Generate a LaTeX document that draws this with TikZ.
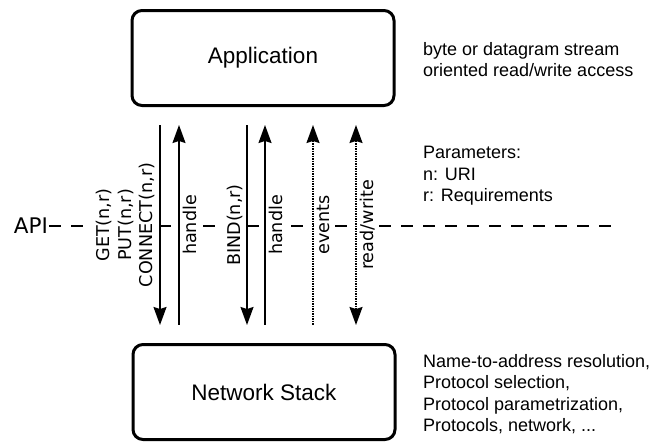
\documentclass[tikz,border=0pt]{standalone}
\usepackage{fontspec}
\setmainfont{Liberation Sans}
\newfontfamily\labelfont{DejaVu Sans}
\usetikzlibrary{positioning,arrows.meta}

\begin{document}
\begin{tikzpicture}[x=1pt, y=-1pt, >={Stealth[length=18pt,width=13pt,inset=2pt]},
  layer/.style={draw, line width=3pt, rounded corners=10pt, minimum width=262pt,
    minimum height=95pt, font=\fontsize{22.5}{27}\selectfont},
  note/.style={align=left, inner sep=0pt, font=\fontsize{18}{21.5}\selectfont},
  call/.style={line width=1.5pt, shorten <=18pt, shorten >=18pt},
  ev/.style={call, densely dotted},
  lbl/.style={rotate=90, fill=white, inner sep=3pt, align=center,
    font=\labelfont\fontsize{17.6}{21.5}\selectfont}]
  \useasboundingbox (0,0) rectangle (657,442);

  \node[layer] (app)   at (263,58)  {Application};
  \node[layer] (stack) at (264,392) {Network Stack};

  \node[note, anchor=north west] (strm) at (423,42)
    {byte or datagram stream\\oriented read/write access};
  \node[note, anchor=north west] (par) at (423,146)
    {Parameters:\\n: URI\\r: Requirements};
  \node[note, anchor=north west] (res) at (423,354)
    {Name-to-address resolution,\\Protocol selection,\\Protocol parametrization,\\Protocols, network, ...};

  % API line
  \node[font=\labelfont\fontsize{21.5}{25}\selectfont, inner sep=1pt] (api) at (31,226) {API};
  \coordinate (apiend) at (617,226);
  \draw[line width=1.3pt, dash pattern=on 12pt off 10pt] (api.east) -- (apiend);

  % calls
  \draw[call, ->] (app.south -| 160,0) -- node[lbl, midway, anchor=south, inner sep=4pt]
    {GET(n,r)\\PUT(n,r)\\CONNECT(n,r)} (stack.north -| 160,0);
  \draw[call, <-] (app.south -| 179,0) -- node[lbl, midway, anchor=north] {handle} (stack.north -| 179,0);
  \draw[call, ->] (app.south -| 247,0) -- node[lbl, midway, anchor=south] {BIND(n,r)} (stack.north -| 247,0);
  \draw[call, <-] (app.south -| 265,0) -- node[lbl, midway, anchor=north] {handle} (stack.north -| 265,0);
  \draw[ev, <-] (app.south -| 313,0) -- node[lbl, midway, anchor=north] {events} (stack.north -| 313,0);
  \draw[ev, <->] (app.south -| 356,0) -- node[lbl, midway, anchor=north] {read/write} (stack.north -| 356,0);
\end{tikzpicture}
\end{document}
